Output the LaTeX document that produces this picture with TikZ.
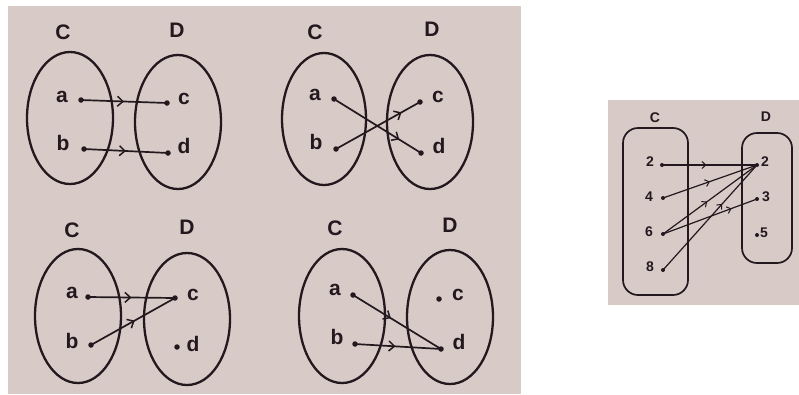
\documentclass[tikz,border=0pt]{standalone}
\usepackage{fontspec}
\setmainfont{Liberation Sans}
\usetikzlibrary{arrows.meta,decorations.markings}
\definecolor{paper}{RGB}{216,202,199}
\definecolor{ink}{RGB}{34,24,30}
\tikzset{
  lbl/.style={font=\fontsize{21}{21}\selectfont\bfseries, text=ink, inner sep=0pt},
  slbl/.style={font=\fontsize{14}{14}\selectfont\bfseries, text=ink, inner sep=0pt},
  dot/.style={circle, fill=ink, inner sep=0pt, minimum size=5.5pt},
  sdot/.style={circle, fill=ink, inner sep=0pt, minimum size=4pt},
  setline/.style={draw=ink, line width=2.3pt},
  ssetline/.style={draw=ink, line width=1.7pt},
  maparrow/.style={draw=ink, line width=1.7pt, postaction={decorate},
    decoration={markings, mark=at position #1 with {\arrow[ink, line width=1.5pt]{Straight Barb[length=5.5pt,width=10pt]}}}},
  smaparrow/.style={draw=ink, line width=1.2pt, postaction={decorate},
    decoration={markings, mark=at position #1 with {\arrow[ink, line width=1pt]{Straight Barb[length=4pt,width=7pt]}}}}
}
\begin{document}
\begin{tikzpicture}[x=1pt,y=-1pt]
\useasboundingbox (0,0) rectangle (799,394);
\fill[paper] (8,6) rectangle (521,394);
\fill[paper] (608,100) rectangle (799,305);

% Panel 1
\draw[setline] (70,118) ellipse [x radius=43, y radius=66];
\draw[setline] (178,122) ellipse [x radius=43, y radius=67];
\node[lbl] (p1C) at (63,32) {C};
\node[lbl] (p1D) at (177,30) {D};
\node[lbl] (p1al) at (62,97) {a};
\node[lbl] (p1bl) at (63,143) {b};
\node[lbl] (p1cl) at (184,99) {c};
\node[lbl] (p1dl) at (184,146) {d};
\node[dot] (p1a) at (81,100) {};
\node[dot] (p1b) at (84,149) {};
\node[dot] (p1c) at (167,103) {};
\node[dot] (p1d) at (168,153) {};
\draw[maparrow=0.5] (p1a.center) -- (p1c.center);
\draw[maparrow=0.5] (p1b.center) -- (p1d.center);

% Panel 2
\draw[setline] (324,119) ellipse [x radius=42, y radius=66];
\draw[setline] (430,122) ellipse [x radius=43, y radius=67];
\node[lbl] (p2C) at (315,32) {C};
\node[lbl] (p2D) at (432,29) {D};
\node[lbl] (p2al) at (315,95) {a};
\node[lbl] (p2bl) at (316,142) {b};
\node[lbl] (p2cl) at (438,97) {c};
\node[lbl] (p2dl) at (439,146) {d};
\node[dot] (p2a) at (334,99) {};
\node[dot] (p2b) at (336,149) {};
\node[dot] (p2c) at (420,102) {};
\node[dot] (p2d) at (421,153) {};
\draw[maparrow=0.75] (p2a.center) -- (p2d.center);
\draw[maparrow=0.78] (p2b.center) -- (p2c.center);

% Panel 3
\draw[setline] (78,316) ellipse [x radius=43, y radius=67];
\draw[setline] (187,319) ellipse [x radius=43, y radius=66];
\node[lbl] (p3C) at (72,230) {C};
\node[lbl] (p3D) at (187,227) {D};
\node[lbl] (p3al) at (72,293) {a};
\node[lbl] (p3bl) at (72,341) {b};
\node[lbl] (p3cl) at (193,295) {c};
\node[lbl] (p3dl) at (193,344) {d};
\node[dot] (p3a) at (88,297) {};
\node[dot] (p3b) at (91,345) {};
\node[dot] (p3c) at (175,298) {};
\node[dot] (p3d) at (177,347) {};
\draw[maparrow=0.5] (p3a.center) -- (p3c.center);
\draw[maparrow=0.52] (p3b.center) -- (p3c.center);

% Panel 4
\draw[setline] (342,316) ellipse [x radius=43, y radius=67];
\draw[setline] (450,317) ellipse [x radius=43, y radius=67];
\node[lbl] (p4C) at (335,228) {C};
\node[lbl] (p4D) at (450,225) {D};
\node[lbl] (p4al) at (335,290) {a};
\node[lbl] (p4bl) at (337,337) {b};
\node[lbl] (p4cl) at (458,295) {c};
\node[lbl] (p4dl) at (459,342) {d};
\node[dot] (p4a) at (353,295) {};
\node[dot] (p4b) at (355,344) {};
\node[dot] (p4c) at (439,299) {};
\node[dot] (p4d) at (441,349) {};
\draw[maparrow=0.43] (p4a.center) -- (p4d.center);
\draw[maparrow=0.47] (p4b.center) -- (p4d.center);

% Right panel
\draw[ssetline, rounded corners=15pt] (623,128) rectangle (688,295);
\draw[ssetline, rounded corners=15pt] (742,133) rectangle (792,263);
\node[slbl] (rC) at (655,118) {C};
\node[slbl] (rD) at (766,117) {D};
\node[slbl] (l2l) at (650,162) {2};
\node[slbl] (l4l) at (649,197) {4};
\node[slbl] (l6l) at (649,232) {6};
\node[slbl] (l8l) at (650,267) {8};
\node[sdot] (l2) at (662,165) {};
\node[sdot] (l4) at (663,198) {};
\node[sdot] (l6) at (663,234) {};
\node[sdot] (l8) at (663,270) {};
\node[sdot] (r2) at (757,165) {};
\node[sdot] (r3) at (757,199) {};
\node[sdot] (r5) at (757,235) {};
\node[slbl] (r2l) at (765,162) {2};
\node[slbl] (r3l) at (766,197) {3};
\node[slbl] (r5l) at (764,233) {5};
\draw[smaparrow=0.47] (l2.center) -- (r2.center);
\draw[smaparrow=0.5] (l4.center) -- (r2.center);
\draw[smaparrow=0.47] (l6.center) -- (r2.center);
\draw[smaparrow=0.73] (l6.center) -- (r3.center);
\draw[smaparrow=0.63] (l8.center) -- (r2.center);
\end{tikzpicture}
\end{document}
